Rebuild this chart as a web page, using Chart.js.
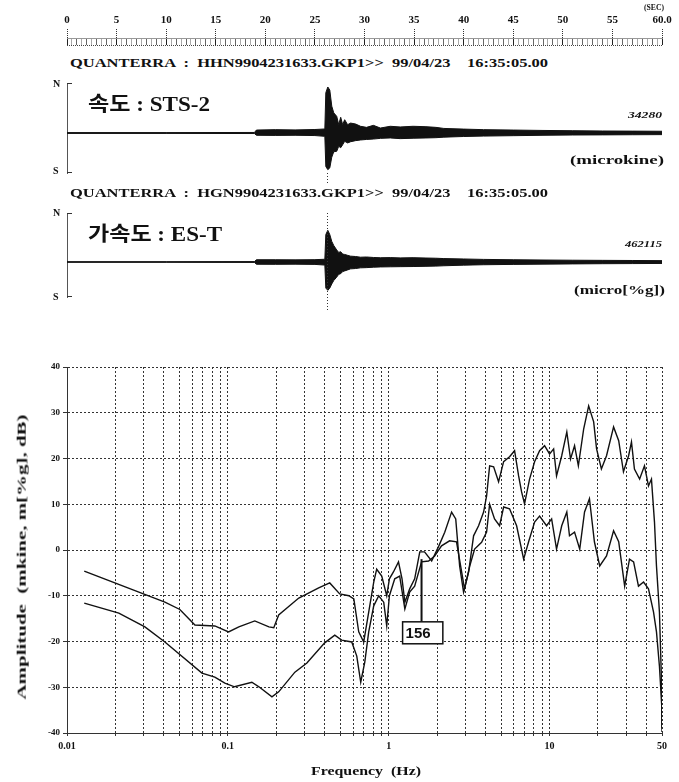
<!DOCTYPE html>
<html>
<head>
<meta charset="utf-8">
<script src="https://cdn.jsdelivr.net/npm/chart.js@4.4.1/dist/chart.umd.min.js"></script>
<style>
body { margin: 0; background: #fff; }
#wrap { position: relative; width: 679px; height: 782px; overflow: hidden; font-family: "Liberation Serif", "Noto Sans CJK KR", serif; color: #111; }
canvas { position: absolute; left: 0; }
.t { position: absolute; white-space: pre; font-weight: bold; line-height: 1; transform-origin: 0 50%; }
</style>
</head>
<body>
<div id="wrap">
  <canvas id="timeAxis" width="679" height="50" style="top:0"></canvas>
  <canvas id="velTrace" width="679" height="110" style="top:78px"></canvas>
  <canvas id="accTrace" width="679" height="115" style="top:200px"></canvas>
  <canvas id="spectrum" width="679" height="442" style="top:340px"></canvas>

  <div class="t" data-w="20" style="left:644px;top:3px;font-size:9px">(SEC)</div>
  <div class="t" data-w="478" style="left:70px;top:57px;font-size:12px">QUANTERRA  :  HHN9904231633.GKP1&gt;&gt;  99/04/23    16:35:05.00</div>
  <div class="t" style="left:53px;top:79px;font-size:10px">N</div>
  <div class="t" data-w="122" style="left:88px;top:94px;font-size:20px">속도 : STS-2</div>
  <div class="t" data-w="34" style="left:628px;top:112px;font-size:8px;font-style:italic">34280</div>
  <div class="t" data-w="94" style="left:570px;top:153px;font-size:13px">(microkine)</div>
  <div class="t" style="left:53px;top:166px;font-size:10px">S</div>
  <div class="t" data-w="478" style="left:70px;top:187px;font-size:12px">QUANTERRA  :  HGN9904231633.GKP1&gt;&gt;  99/04/23    16:35:05.00</div>
  <div class="t" style="left:53px;top:208px;font-size:10px">N</div>
  <div class="t" data-w="134" style="left:88px;top:224px;font-size:20px">가속도 : ES-T</div>
  <div class="t" data-w="37" style="left:625px;top:241px;font-size:8px;font-style:italic">462115</div>
  <div class="t" data-w="91" style="left:574px;top:283px;font-size:13px">(micro[%g])</div>
  <div class="t" style="left:53px;top:292px;font-size:10px">S</div>
  <div class="t" data-w="110" style="left:311px;top:764px;font-size:13px">Frequency  (Hz)</div>
  <div class="t" id="yTitle" style="font-size:12px">Amplitude  (mkine, m[%g], dB)</div>
</div>

<script>
// 시간축 눈금
const timeLabels = ['0', '5', '10', '15', '20', '25', '30', '35', '40', '45', '50', '55', '60.0'];

// 파형 포락선 (시간 s, 상한/하한)
const traceTime = [0, 10, 18.9, 19.1, 21, 23, 25, 26.0, 26.1, 26.3, 26.5, 26.7, 26.9, 27.2, 27.4, 27.6, 27.8, 28.0, 28.3, 28.6, 29.1, 29.6, 30.2, 30.9, 31.6, 32.6, 33.6, 34.9, 36.2, 37.2, 38, 40, 42, 45, 48, 51, 54, 57, 60];
const velUpper = [300, 300, 400, 2200, 2500, 2300, 2600, 3000, 30000, 34280, 32000, 20000, 15000, 12400, 6200, 11700, 6200, 9900, 6200, 7400, 6700, 5000, 4200, 5700, 3700, 5000, 4500, 5000, 4700, 4200, 3400, 2900, 2500, 2200, 1900, 1700, 1500, 1400, 1300];
const velLower = [-300, -300, -400, -1700, -1800, -1700, -1900, -2500, -25000, -27300, -26000, -18000, -14000, -13600, -9900, -11000, -8700, -6200, -7400, -6500, -5700, -5200, -4800, -4500, -4000, -3700, -4200, -3900, -3700, -3500, -3100, -2600, -2300, -2000, -1700, -1500, -1400, -1300, -1200];
const accUpper = [5000, 5000, 6000, 33000, 33000, 31000, 34000, 40000, 400000, 462115, 400000, 300000, 240000, 175000, 140000, 150000, 115000, 110000, 97000, 85000, 80000, 70000, 73000, 66000, 62000, 64000, 60000, 63000, 58000, 55000, 50000, 44000, 38000, 33000, 29000, 26000, 24000, 22000, 20000];
const accLower = [-5000, -5000, -6000, -33000, -34000, -32000, -35000, -45000, -380000, -413000, -380000, -320000, -270000, -220000, -180000, -170000, -140000, -130000, -115000, -100000, -95000, -85000, -82000, -76000, -72000, -70000, -68000, -66000, -63000, -60000, -55000, -46000, -40000, -35000, -31000, -28000, -25000, -23000, -21000];
const pickTime = 26.2;

// 스펙트럼 (Hz, dB)
const freqA = [0.0128, 0.0406, 0.0503, 0.0624, 0.083, 0.101, 0.117, 0.147, 0.180, 0.193, 0.207, 0.276, 0.367, 0.430, 0.496, 0.565, 0.607, 0.651, 0.699, 0.751, 0.807, 0.842, 0.905, 0.972, 1.01, 1.07, 1.15, 1.21, 1.26, 1.35, 1.45, 1.56, 1.67, 1.85, 2.05, 2.23, 2.46, 2.61, 2.76, 2.92, 3.14, 3.37, 3.62, 3.89, 4.06, 4.24, 4.49, 4.82, 5.18, 5.64, 6.06, 6.42, 6.70, 6.99, 7.51, 8.07, 8.67, 9.31, 10.0, 10.6, 11.05, 11.9, 12.8, 13.5, 14.3, 15.1, 16.3, 17.5, 18.8, 19.6, 21.0, 22.6, 25.0, 26.9, 28.8, 31.0, 32.3, 33.7, 36.3, 38.9, 41.2, 43.0, 44.9, 46.2, 48.2, 49.6, 50];
const ampA = [-4.6, -11.4, -13, -16.4, -16.6, -17.9, -16.8, -15.5, -16.8, -17, -14.2, -10.5, -8.3, -7.2, -9.6, -10, -10.7, -17.9, -20.1, -13.6, -7, -4.2, -5.7, -10, -6.3, -4.8, -2.6, -6.3, -11.4, -8.5, -6.3, -0.4, -0.4, -2.4, 0.9, 3.9, 8.3, 6.8, -3.5, -9.2, -4.8, 3.1, 5.3, 8.3, 11.8, 18.4, 18.2, 14.9, 19.3, 20.4, 21.7, 16.2, 12.7, 10.1, 15.5, 19.3, 21.7, 22.8, 21, 22.1, 16.2, 20.6, 25.8, 19.9, 22.8, 18.4, 26.5, 31.5, 28, 22.1, 17.7, 20.6, 26.9, 23.9, 17.1, 20.6, 23.6, 17.7, 15.5, 18.4, 14, 15.5, 6.1, -3.5, -13.6, -28.2, -39];
const freqB = [0.0128, 0.0210, 0.0305, 0.0406, 0.069, 0.083, 0.0958, 0.110, 0.141, 0.156, 0.188, 0.207, 0.261, 0.310, 0.400, 0.462, 0.510, 0.589, 0.633, 0.670, 0.710, 0.751, 0.807, 0.867, 0.931, 0.972, 1.01, 1.09, 1.17, 1.26, 1.35, 1.45, 1.60, 1.77, 1.93, 2.13, 2.39, 2.64, 2.84, 2.96, 3.19, 3.42, 3.78, 4.06, 4.24, 4.55, 4.89, 5.18, 5.64, 6.24, 6.90, 7.41, 8.07, 8.67, 9.58, 10.3, 11.05, 11.9, 12.8, 13.3, 14.3, 15.4, 16.5, 17.7, 19.0, 20.5, 22.6, 25.0, 26.9, 29.3, 31.4, 33.3, 35.7, 38.4, 41.2, 44.3, 46.2, 48.2, 49.8, 50];
const ampB = [-11.6, -13.8, -16.8, -20.1, -26.9, -27.8, -29.1, -29.9, -28.9, -29.9, -32.1, -31, -26.7, -24.7, -20.3, -18.6, -19.7, -20.1, -23.2, -28.9, -24.5, -17.9, -12.2, -10, -11.4, -16.6, -10, -6.3, -5.7, -12.9, -9.2, -7.9, -2.6, -2.4, -1.3, 0.9, 2, 1.8, -4.8, -8.5, -3.5, 0.2, 1.7, 3.9, 10, 6.8, 5.3, 9.4, 9, 5.3, -2, 1.8, 6.1, 7.4, 5.3, 6.8, 0.2, 5.3, 8.3, 3.1, 3.9, 0.2, 8.3, 11.2, 1.8, -3.5, -1.3, 4.2, 1.8, -7.9, -2, -2.6, -7.9, -7, -8.5, -13.6, -17.9, -25.4, -34, -39.8];

// 로그 격자와 라벨
const freqGrid = [0.01, 0.02, 0.03, 0.04, 0.05, 0.06, 0.07, 0.08, 0.09, 0.1, 0.2, 0.3, 0.4, 0.5, 0.6, 0.7, 0.8, 0.9, 1, 2, 3, 4, 5, 6, 7, 8, 9, 10, 20, 30, 40, 50];
const freqLabels = { '0.01': '0.01', '0.1': '0.1', '1': '1', '10': '10', '50': '50' };

// 주석 "156"
const note = { text: '156', freq: 1.6, top: -2, boxLeft: 1.22, boxRight: 2.17, boxTop: -15.7, boxBottom: -20.5 };

const INK = '#111';
const FONT = '"Liberation Serif", serif';
Chart.defaults.animation = false;
Chart.defaults.responsive = false;
Chart.defaults.font.family = FONT;
Chart.defaults.plugins.legend.display = false;
Chart.defaults.plugins.tooltip.enabled = false;

// 시간축
new Chart(document.getElementById('timeAxis'), {
    type: 'line',
    data: { datasets: [] },
    options: {
        layout: { padding: { left: 67, right: 17, top: 0, bottom: 5 } },
        scales: {
            x: {
                type: 'linear', position: 'top', min: 0, max: 60,
                afterFit: s => { s.height = 38; },
                ticks: {
                    stepSize: 0.5, autoSkip: false, maxRotation: 0, padding: 2, color: INK,
                    font: { size: 11, weight: 'bold' },
                    callback: v => (v % 5 === 0 ? timeLabels[v / 5] : '')
                },
                grid: {
                    tickLength: 9,
                    color: ctx => (ctx.tick.value % 5 === 0 ? '#222' : (ctx.tick.value % 1 === 0 ? '#666' : '#aaa')),
                    tickColor: ctx => (ctx.tick.value % 5 === 0 ? '#333' : 'rgba(0,0,0,0)'),
                    tickBorderDash: [1, 1]
                },
                border: { display: true, color: '#999', dash: [] }
            },
            y: {
                min: 0, max: 1,
                afterFit: s => { s.width = 0; },
                ticks: { display: false, stepSize: 1 },
                grid: { drawTicks: false, color: ctx => (ctx.tick.value === 0 ? '#444' : 'rgba(0,0,0,0)') },
                border: { display: false, dash: [1, 1] }
            }
        }
    }
});

// 파형 보조 선 (N/S 모서리, 피크 마커)
const traceDeco = {
    id: 'traceDeco',
    afterDraw(chart, args, opts) {
        const { ctx, chartArea: a, scales } = chart;
        ctx.save();
        ctx.strokeStyle = '#333';
        ctx.lineWidth = 1;
        ctx.beginPath();
        ctx.moveTo(a.left, a.top + 0.5); ctx.lineTo(a.left + 5, a.top + 0.5);
        ctx.moveTo(a.left, a.bottom - 0.5); ctx.lineTo(a.left + 5, a.bottom - 0.5);
        ctx.stroke();
        const x = Math.round(scales.x.getPixelForValue(pickTime)) + 0.5;
        ctx.setLineDash([1, 2]);
        ctx.beginPath();
        ctx.moveTo(x, a.top + opts.from);
        ctx.lineTo(x, a.bottom + opts.to);
        ctx.stroke();
        ctx.restore();
    }
};

function traceChart(id, upper, lower, yMin, yMax, pad, marker) {
    return new Chart(document.getElementById(id), {
        type: 'line',
        data: {
            datasets: [
                {
                    data: traceTime.map((t, i) => ({ x: t, y: upper[i] })),
                    borderColor: INK, backgroundColor: INK, borderWidth: 1,
                    pointRadius: 0, fill: '+1'
                },
                {
                    data: traceTime.map((t, i) => ({ x: t, y: lower[i] })),
                    borderColor: INK, borderWidth: 1, pointRadius: 0, fill: false
                }
            ]
        },
        options: {
            layout: { padding: { left: 0, right: 17, top: pad[0], bottom: pad[1] } },
            plugins: { traceDeco: marker },
            scales: {
                x: { type: 'linear', min: 0, max: 60, display: false },
                y: {
                    min: yMin, max: yMax,
                    afterFit: s => { s.width = 67; },
                    ticks: { display: false },
                    grid: { display: false },
                    border: { display: true, color: '#555', dash: [1, 2] }
                }
            }
        },
        plugins: [traceDeco]
    });
}

traceChart('velTrace', velUpper, velLower, -29800, 37250, [5, 15], { from: 90, to: 10 });
traceChart('accTrace', accUpper, accLower, -510000, 714000, [13, 18], { from: 0, to: 13 });

// 주석 플러그인
const notePlugin = {
    id: 'notePlugin',
    afterDatasetsDraw(chart) {
        const { ctx, scales: { x, y } } = chart;
        const lx = x.getPixelForValue(note.freq);
        const l = x.getPixelForValue(note.boxLeft), r = x.getPixelForValue(note.boxRight);
        const t = y.getPixelForValue(note.boxTop), b = y.getPixelForValue(note.boxBottom);
        ctx.save();
        ctx.strokeStyle = INK;
        ctx.lineWidth = 2;
        ctx.beginPath();
        ctx.moveTo(lx, y.getPixelForValue(note.top));
        ctx.lineTo(lx, t);
        ctx.stroke();
        ctx.fillStyle = '#fff';
        ctx.fillRect(l, t, r - l, b - t);
        ctx.lineWidth = 1.5;
        ctx.strokeRect(l, t, r - l, b - t);
        ctx.fillStyle = INK;
        ctx.font = 'bold 15px "Liberation Sans", sans-serif';
        ctx.textBaseline = 'middle';
        ctx.fillText(note.text, l + 3, (t + b) / 2 + 1);
        ctx.restore();
    }
};

// 스펙트럼
new Chart(document.getElementById('spectrum'), {
    type: 'line',
    data: {
        datasets: [
            {
                data: freqA.map((f, i) => ({ x: f, y: ampA[i] })),
                borderColor: INK, borderWidth: 1.4, pointRadius: 0, fill: false
            },
            {
                data: freqB.map((f, i) => ({ x: f, y: ampB[i] })),
                borderColor: INK, borderWidth: 1.4, pointRadius: 0, fill: false
            }
        ]
    },
    options: {
        layout: { padding: { left: 0, right: 17, top: 27, bottom: 0 } },
        scales: {
            x: {
                type: 'logarithmic', min: 0.01, max: 50,
                afterBuildTicks: s => { s.ticks = freqGrid.map(v => ({ value: v })); },
                afterFit: s => { s.height = 49; },
                ticks: {
                    autoSkip: false, maxRotation: 0, padding: 4, color: INK,
                    font: { size: 10, weight: 'bold' },
                    callback: v => freqLabels[String(v)] || ''
                },
                grid: { color: '#333', lineWidth: 1, tickLength: 3 },
                border: { display: true, color: '#333', dash: [2, 2] }
            },
            y: {
                min: -40, max: 40,
                afterFit: s => { s.width = 67; },
                ticks: { stepSize: 10, padding: 3, color: INK, font: { size: 9, weight: 'bold' } },
                grid: { color: '#333', lineWidth: 1, tickLength: 4 },
                border: { display: true, color: '#333', dash: [2, 2] }
            }
        }
    },
    plugins: [notePlugin]
});

// 텍스트 폭 맞춤
document.querySelectorAll('.t[data-w]').forEach(el => {
    const w = el.getBoundingClientRect().width;
    el.style.transform = 'scaleX(' + (el.dataset.w / w) + ')';
});
const yt = document.getElementById('yTitle');
const ytw = yt.getBoundingClientRect().width;
yt.style.transformOrigin = '50% 50%';
yt.style.left = (22 - ytw / 2) + 'px';
yt.style.top = (557 - 6) + 'px';
yt.style.transform = 'rotate(-90deg) scaleX(' + (285 / ytw) + ')';
</script>
</body>
</html>
